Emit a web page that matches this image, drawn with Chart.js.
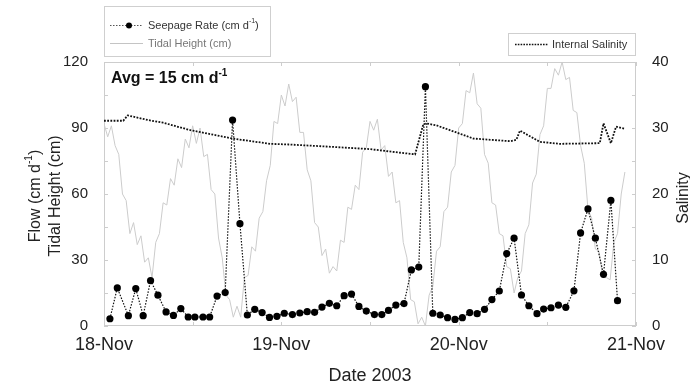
<!DOCTYPE html>
<html>
<head>
<meta charset="utf-8">
<script src="https://cdn.jsdelivr.net/npm/chart.js@4"></script>
<style>
  html, body { margin: 0; padding: 0; background: #fff; }
  #wrap { width: 690px; height: 390px; }
</style>
</head>
<body>
<div id="wrap"><canvas id="chart" width="690" height="390"></canvas></div>
<script>
// x axis is hours counted from 18-Nov 00:00
const dayLabels = ['18-Nov', '19-Nov', '20-Nov', '21-Nov'];
const flowTicks = [0, 30, 60, 90, 120];
const salinityTicks = [0, 10, 20, 30, 40];

// seepage rate (cm/d), roughly hourly samples
const seepageHours = [0.8, 1.8, 3.3, 4.3, 5.3, 6.3, 7.3, 8.4, 9.4, 10.4, 11.4, 12.3, 13.4, 14.3, 15.3, 16.4,
    17.4, 18.4, 19.4, 20.4, 21.4, 22.4, 23.4, 24.4, 25.5, 26.5, 27.5, 28.5, 29.5, 30.5, 31.5, 32.5, 33.5,
    34.5, 35.5, 36.6, 37.6, 38.5, 39.5, 40.6, 41.6, 42.6, 43.5, 44.5, 45.5, 46.5, 47.5, 48.5, 49.5, 50.5,
    51.5, 52.5, 53.5, 54.5, 55.5, 56.5, 57.5, 58.6, 59.5, 60.5, 61.5, 62.5, 63.6, 64.5, 65.5, 66.5, 67.6,
    68.6, 69.5];
const seepageRate = [3.3, 17.3, 4.7, 17, 4.7, 20.6, 14, 6.4, 4.8, 7.9, 4.1, 4.1, 4.1, 4.1, 13.6, 15.2,
    93.6, 46.5, 5, 7.6, 6.1, 3.9, 4.4, 5.8, 5.2, 5.9, 6.5, 6.2, 8.6, 10.3, 9.2, 13.8, 14.5,
    8.9, 6.8, 5.2, 5.2, 7.1, 9.5, 10.2, 25.5, 26.8, 108.8, 5.8, 5, 3.8, 3, 3.8, 6.1, 5.6,
    7.6, 12, 15.9, 32.9, 39.9, 14.1, 9.2, 5.6, 7.7, 8.3, 9.5, 8.5, 16, 42.3, 53.2, 39.9, 23.5,
    57.1, 11.5];

// tidal height (cm), one reading every half hour from 00:00
const tideStepHours = 0.5;
const tideHeight = [92, 86, 91, 82, 78, 60, 57, 42, 47, 37,
    41, 29, 31, 22, 38, 42, 56, 55, 67, 64,
    76, 72, 85, 81, 91, 83, 90, 77, 78, 62,
    60, 40, 31, 14, 12, 4, 9, 4, 22, 23,
    36, 34, 49, 52, 66, 73, 93, 92, 105, 100,
    110, 102, 104, 88, 88, 71, 66, 47, 45, 32,
    35, 24, 27, 25, 39, 38, 54, 53, 64, 62,
    79, 81, 93, 89, 94, 80, 82, 68, 70, 56,
    57, 38, 31, 12, 11, 1, 4, 0, 14, 18,
    34, 36, 52, 54, 70, 73, 90, 92, 107, 106,
    115, 101, 99, 78, 74, 56, 55, 42, 41, 27,
    26, 15, 22, 25, 42, 46, 65, 69, 87, 91,
    108, 108, 117, 114, 120, 112, 113, 98, 97, 82,
    74, 53, 49, 35, 34, 22, 22, 21, 38, 42,
    60, 70];

// internal salinity
const salinityHours = [0, 2.6, 3.2, 6, 8, 11.6, 17.4, 22.5, 25, 30, 36, 42.1, 43.2, 43.6, 45, 47.5,
    50, 55, 55.8, 56.3, 59, 61.7, 67.1, 67.6, 68.6, 69.3, 70.4];
const salinityValues = [31.1, 31.1, 31.9, 31.2, 30.8, 29.7, 28.4, 27.6, 27.5, 27.2, 26.8, 26.0, 30.5, 30.7, 30.4, 29.4,
    28.4, 28.0, 28.2, 29.6, 27.9, 27.6, 27.7, 30.7, 27.7, 30.2, 29.9];

const FONT = "'Liberation Sans', Arial, Helvetica, sans-serif";

const toPoints = (xs, ys) => xs.map((x, i) => ({ x, y: ys[i] }));

// text with superscript pieces, runs = [[text, isSup], ...]
function drawRich(ctx, x, y, runs, size, weight, align) {
    const base = `${weight} ${size}px ${FONT}`;
    const sup = `${weight} ${Math.round(size * 0.62)}px ${FONT}`;
    let total = 0;
    runs.forEach(([t, s]) => { ctx.font = s ? sup : base; total += ctx.measureText(t).width; });
    let cx = align === 'center' ? x - total / 2 : x;
    ctx.textAlign = 'left';
    runs.forEach(([t, s]) => {
        ctx.font = s ? sup : base;
        ctx.fillText(t, cx, s ? y - size * 0.42 : y);
        cx += ctx.measureText(t).width;
    });
}

// box, inward tick marks, legends and titles
const decorPlugin = {
    id: 'decor',
    beforeDatasetsDraw(chart) {
        const { ctx, chartArea: a, scales } = chart;
        ctx.save();
        ctx.strokeStyle = '#cdcdcd';
        ctx.lineWidth = 1;
        ctx.strokeRect(a.left + 0.5, a.top + 0.5, a.width - 1, a.height - 1);
        ctx.beginPath();
        scales.y.ticks.forEach(t => {
            const y = Math.round(scales.y.getPixelForValue(t.value)) + 0.5;
            ctx.moveTo(a.left, y); ctx.lineTo(a.left + 4, y);
        });
        scales.y2.ticks.forEach(t => {
            const y = Math.round(scales.y2.getPixelForValue(t.value)) + 0.5;
            ctx.moveTo(a.right, y); ctx.lineTo(a.right - 4, y);
        });
        scales.x.ticks.forEach(t => {
            const x = Math.round(scales.x.getPixelForValue(t.value)) + 0.5;
            ctx.moveTo(x, a.top); ctx.lineTo(x, a.top + 4);
            ctx.moveTo(x, a.bottom); ctx.lineTo(x, a.bottom - 4);
        });
        ctx.stroke();
        ctx.restore();
    },
    afterDraw(chart) {
        const { ctx, chartArea: a } = chart;
        ctx.save();

        // legend for seepage + tide
        ctx.fillStyle = '#fff';
        ctx.strokeStyle = '#cfcfcf';
        ctx.lineWidth = 1;
        ctx.fillRect(104.5, 6.5, 166, 50);
        ctx.strokeRect(104.5, 6.5, 166, 50);
        ctx.strokeStyle = '#555';
        ctx.setLineDash([1.5, 1.5]);
        ctx.beginPath(); ctx.moveTo(110, 25.5); ctx.lineTo(143, 25.5); ctx.stroke();
        ctx.setLineDash([]);
        ctx.fillStyle = '#000';
        ctx.beginPath(); ctx.arc(129, 25.5, 3, 0, Math.PI * 2); ctx.fill();
        ctx.strokeStyle = '#c4c4c4';
        ctx.beginPath(); ctx.moveTo(110, 43.5); ctx.lineTo(143, 43.5); ctx.stroke();
        ctx.textBaseline = 'middle';
        ctx.fillStyle = '#333';
        drawRich(ctx, 148, 26, [['Seepage Rate (cm d', false], ['-1', true], [')', false]], 11, 'normal', 'left');
        ctx.fillStyle = '#777';
        drawRich(ctx, 148, 44, [['Tidal Height (cm)', false]], 11, 'normal', 'left');

        // legend for salinity
        ctx.fillStyle = '#fff';
        ctx.strokeStyle = '#cfcfcf';
        ctx.fillRect(508.5, 33.5, 127, 22);
        ctx.strokeRect(508.5, 33.5, 127, 22);
        ctx.strokeStyle = '#111';
        ctx.lineWidth = 1.6;
        ctx.setLineDash([1.6, 1.2]);
        ctx.beginPath(); ctx.moveTo(515, 44.5); ctx.lineTo(548, 44.5); ctx.stroke();
        ctx.setLineDash([]);
        ctx.fillStyle = '#333';
        drawRich(ctx, 552, 45, [['Internal Salinity', false]], 11, 'normal', 'left');

        // average annotation
        ctx.textBaseline = 'alphabetic';
        ctx.fillStyle = '#111';
        drawRich(ctx, 111, 83, [['Avg = 15 cm d', false], ['-1', true]], 16, 'bold', 'left');

        // x title
        ctx.fillStyle = '#222';
        drawRich(ctx, 370, 381, [['Date 2003', false]], 18, 'normal', 'center');

        // left titles, rotated
        const midY = (a.top + a.bottom) / 2 + 2;
        ctx.textBaseline = 'middle';
        ctx.save();
        ctx.translate(36, midY);
        ctx.rotate(-Math.PI / 2);
        drawRich(ctx, 0, 0, [['Flow (cm d', false], ['-1', true], [')', false]], 16, 'normal', 'center');
        ctx.restore();
        ctx.save();
        ctx.translate(56, midY);
        ctx.rotate(-Math.PI / 2);
        drawRich(ctx, 0, 0, [['Tidal Height (cm)', false]], 16, 'normal', 'center');
        ctx.restore();

        // right title
        ctx.save();
        ctx.translate(684, midY + 2);
        ctx.rotate(-Math.PI / 2);
        drawRich(ctx, 0, 0, [['Salinity', false]], 16, 'normal', 'center');
        ctx.restore();

        ctx.restore();
    }
};

const yTickFont = { family: FONT, size: 15 };
const xTickFont = { family: FONT, size: 18 };

const ctx = document.getElementById('chart').getContext('2d');
new Chart(ctx, {
    type: 'scatter',
    data: {
        datasets: [
            {
                label: 'Seepage Rate (cm d-1)',
                data: toPoints(seepageHours, seepageRate),
                yAxisID: 'y',
                showLine: true,
                borderColor: '#111',
                borderWidth: 1.2,
                borderDash: [1.5, 1.5],
                pointRadius: 3.6,
                pointBackgroundColor: '#000',
                pointBorderColor: '#000',
                pointBorderWidth: 0,
                order: 1
            },
            {
                label: 'Internal Salinity',
                data: toPoints(salinityHours, salinityValues),
                yAxisID: 'y2',
                showLine: true,
                borderColor: '#111',
                borderWidth: 1.8,
                borderDash: [1.8, 1.4],
                pointRadius: 0,
                order: 2
            },
            {
                label: 'Tidal Height (cm)',
                data: tideHeight.map((v, i) => ({ x: i * tideStepHours, y: v })),
                yAxisID: 'y',
                showLine: true,
                borderColor: '#cccccc',
                borderWidth: 1,
                pointRadius: 0,
                order: 3
            }
        ]
    },
    options: {
        responsive: false,
        animation: false,
        devicePixelRatio: 1,
        layout: { padding: { top: 62, left: 0, right: 0, bottom: 0 } },
        plugins: {
            legend: { display: false },
            tooltip: { enabled: false }
        },
        scales: {
            x: {
                type: 'linear',
                min: 0,
                max: 72,
                grid: { display: false, drawTicks: false },
                border: { display: false },
                ticks: {
                    stepSize: 12,
                    padding: 8,
                    maxRotation: 0,
                    autoSkip: false,
                    color: '#222',
                    font: xTickFont,
                    callback: v => (v % 24 === 0 ? dayLabels[v / 24] : '')
                },
                afterFit: s => { s.height = 64; }
            },
            y: {
                position: 'left',
                min: 0,
                max: 120,
                grid: { display: false, drawTicks: false },
                border: { display: false },
                ticks: {
                    stepSize: 15,
                    padding: 16,
                    color: '#222',
                    font: yTickFont,
                    callback: v => (flowTicks.includes(v) ? String(v) : '')
                },
                afterFit: s => { s.width = 104; }
            },
            y2: {
                position: 'right',
                min: 0,
                max: 40,
                grid: { display: false, drawTicks: false },
                border: { display: false },
                ticks: {
                    stepSize: 5,
                    padding: 16,
                    color: '#222',
                    font: yTickFont,
                    callback: v => (salinityTicks.includes(v) ? String(v) : '')
                },
                afterFit: s => { s.width = 54; }
            }
        }
    },
    plugins: [decorPlugin]
});
</script>
</body>
</html>
